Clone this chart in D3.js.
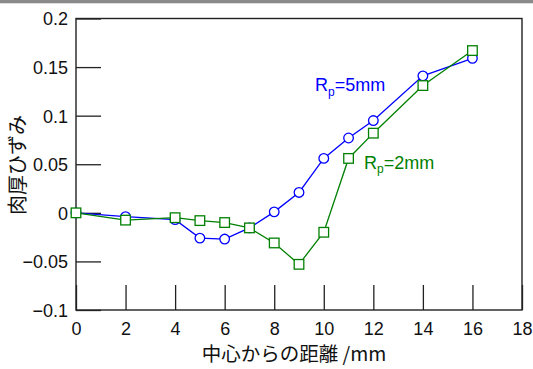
<!DOCTYPE html>
<html>
<head>
<meta charset="utf-8">
<script src="https://cdn.jsdelivr.net/npm/d3@7"></script>
<style>
  html, body { margin: 0; padding: 0; background: #fff; }
  svg { display: block; }
</style>
</head>
<body>
<svg id="chart" width="533" height="369"></svg>
<script>
// Distance from the centre (mm)
const distance = [0, 2, 4, 5, 6, 7, 8, 9, 10, 11, 12, 14, 16];
// Wall-thickness strain for each punch radius
const strainRp5 = [0, -0.004, -0.007, -0.026, -0.027, -0.0155, 0.001, 0.021, 0.056, 0.077, 0.095, 0.141, 0.159];
const strainRp2 = [0, -0.0075, -0.005, -0.008, -0.010, -0.0155, -0.031, -0.053, -0.020, 0.056, 0.082, 0.131, 0.167];

const xTicks = [0, 2, 4, 6, 8, 10, 12, 14, 16, 18];
const yTicks = [-0.1, -0.05, 0, 0.05, 0.1, 0.15, 0.2];
const yTickLabels = ["\u22120.1", "\u22120.05", "0", "0.05", "0.1", "0.15", "0.2"];

const svg = d3.select("#chart");
const plotLeft = 76, plotRight = 522, plotTop = 18.5, plotBottom = 310;

const x = d3.scaleLinear().domain([0, 18]).range([plotLeft, plotRight]);
const y = d3.scaleLinear().domain([-0.1, 0.2]).range([plotBottom, plotTop]);

const numFont = "'Liberation Sans', Arial, sans-serif";
const jpFont = "'Noto Sans CJK JP', sans-serif";

// grey strip along the top edge
svg.append("rect").attr("x", 0).attr("y", 0).attr("width", 533).attr("height", 3.3)
  .attr("fill", "#8a8a8a");

// inward ticks on the left axis
const yAxis = svg.append("g").attr("transform", `translate(${plotLeft},0)`)
  .call(d3.axisLeft(y).tickValues(yTicks).tickSize(-25).tickPadding(8)
    .tickFormat((d, i) => yTickLabels[i]));
yAxis.select(".domain").remove();
yAxis.selectAll(".tick line").attr("stroke", "#222").attr("stroke-width", 1.3);
yAxis.selectAll(".tick text").attr("font-family", numFont).attr("font-size", 18)
  .attr("fill", "#111").attr("dy", "0.36em");

// inward ticks on the bottom axis
const xAxis = svg.append("g").attr("transform", `translate(0,${plotBottom})`)
  .call(d3.axisBottom(x).tickValues(xTicks).tickSize(-25).tickPadding(25)
    .tickFormat(d3.format("d")));
xAxis.select(".domain").remove();
xAxis.selectAll(".tick line").attr("stroke", "#222").attr("stroke-width", 1.3);
xAxis.selectAll(".tick text").attr("font-family", numFont).attr("font-size", 18)
  .attr("fill", "#111").attr("dy", "0");

// plot frame
svg.append("rect").attr("x", plotLeft).attr("y", plotTop)
  .attr("width", plotRight - plotLeft).attr("height", plotBottom - plotTop)
  .attr("fill", "none").attr("stroke", "#222").attr("stroke-width", 1.4);

const line = d3.line().x((d, i) => x(distance[i])).y(d => y(d));

// Rp = 5 mm : blue line with open circles
svg.append("path").datum(strainRp5).attr("d", line)
  .attr("fill", "none").attr("stroke", "#0000ff").attr("stroke-width", 1.3);
svg.append("g").selectAll("circle").data(strainRp5).join("circle")
  .attr("cx", (d, i) => x(distance[i])).attr("cy", d => y(d)).attr("r", 4.8)
  .attr("fill", "#fff").attr("stroke", "#0000ff").attr("stroke-width", 1.3);

// Rp = 2 mm : green line with open squares
svg.append("path").datum(strainRp2).attr("d", line)
  .attr("fill", "none").attr("stroke", "#008000").attr("stroke-width", 1.3);
svg.append("g").selectAll("rect").data(strainRp2).join("rect")
  .attr("x", (d, i) => x(distance[i]) - 4.8).attr("y", d => y(d) - 4.8)
  .attr("width", 9.6).attr("height", 9.6)
  .attr("fill", "#fff").attr("stroke", "#008000").attr("stroke-width", 1.3);

// series labels
function seriesLabel(px, py, value, color) {
  const t = svg.append("text").attr("x", px).attr("y", py)
    .attr("font-family", numFont).attr("font-size", 18).attr("fill", color);
  t.append("tspan").text("R");
  t.append("tspan").attr("font-size", 12).attr("dy", 4.5).text("p");
  t.append("tspan").attr("dy", -4.5).text("=" + value + "mm");
}
seriesLabel(315, 91, 5, "#0000ff");
seriesLabel(364, 168.5, 2, "#008000");

// axis titles
svg.append("text").attr("x", 294).attr("y", 361).attr("text-anchor", "middle")
  .attr("font-family", jpFont).attr("font-size", 19.5).attr("fill", "#111")
  .text("中心からの距離 /mm");
svg.append("text").attr("transform", "translate(25,165) rotate(-90)")
  .attr("text-anchor", "middle")
  .attr("font-family", jpFont).attr("font-size", 20).attr("fill", "#111")
  .text("肉厚ひずみ");
</script>
</body>
</html>
